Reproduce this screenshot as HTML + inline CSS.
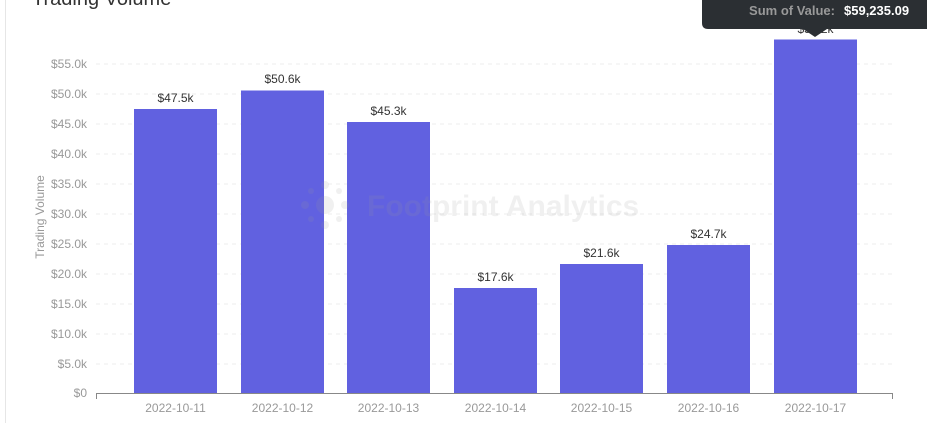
<!DOCTYPE html>
<html><head><meta charset="utf-8"><style>
body{margin:0;background:#fff;width:927px;height:423px;overflow:hidden;font-family:"Liberation Sans",sans-serif}
</style></head><body>
<svg width="927" height="423" xmlns="http://www.w3.org/2000/svg" font-family="Liberation Sans, sans-serif">
<rect x="0" y="0" width="927" height="423" fill="#fff"/>
<line x1="5.5" y1="0" x2="5.5" y2="423" stroke="#e6e6e6"/>
<text x="32" y="5" font-size="20" fill="#333">Trading Volume</text>
<g stroke="#eee" stroke-dasharray="4,4">
<line x1="96" x2="893" y1="64" y2="64"/><line x1="96" x2="893" y1="94" y2="94"/><line x1="96" x2="893" y1="124" y2="124"/><line x1="96" x2="893" y1="154" y2="154"/><line x1="96" x2="893" y1="184" y2="184"/><line x1="96" x2="893" y1="214" y2="214"/><line x1="96" x2="893" y1="244" y2="244"/><line x1="96" x2="893" y1="274" y2="274"/><line x1="96" x2="893" y1="304" y2="304"/><line x1="96" x2="893" y1="334" y2="334"/><line x1="96" x2="893" y1="364" y2="364"/>
</g>
<g font-size="12" fill="#999" text-anchor="end">
<text x="87" y="68">$55.0k</text><text x="87" y="98">$50.0k</text><text x="87" y="128">$45.0k</text><text x="87" y="158">$40.0k</text><text x="87" y="188">$35.0k</text><text x="87" y="218">$30.0k</text><text x="87" y="248">$25.0k</text><text x="87" y="278">$20.0k</text><text x="87" y="308">$15.0k</text><text x="87" y="338">$10.0k</text><text x="87" y="368">$5.0k</text><text x="87" y="397">$0</text>
</g>
<text transform="translate(44,217) rotate(-90)" font-size="12" fill="#999" text-anchor="middle">Trading Volume</text>
<g fill="#6161e0">
<rect x="134" y="109" width="83" height="284"/>
<rect x="241" y="90.5" width="83" height="302.5"/>
<rect x="347" y="122" width="83" height="271"/>
<rect x="454" y="288" width="83" height="105"/>
<rect x="560" y="264" width="83" height="129"/>
<rect x="667" y="245" width="83" height="148"/>
<rect x="774" y="39.5" width="83" height="353.5"/>
</g>
<g opacity="0.14" fill="#999">
<circle cx="325" cy="205" r="9"/><circle cx="325" cy="185" r="4"/><circle cx="325" cy="225" r="4"/><circle cx="305" cy="205" r="4"/><circle cx="345" cy="205" r="4"/><circle cx="311" cy="191" r="3"/><circle cx="339" cy="219" r="3"/><circle cx="339" cy="191" r="3"/><circle cx="311" cy="219" r="3"/>
<text x="367" y="216" font-size="30" font-weight="bold">Footprint Analytics</text>
</g>
<g font-size="12" fill="#333" text-anchor="middle">
<text x="175.5" y="102">$47.5k</text><text x="282.5" y="83">$50.6k</text><text x="388.5" y="115">$45.3k</text><text x="495.5" y="281">$17.6k</text><text x="601.5" y="257">$21.6k</text><text x="708.5" y="238">$24.7k</text><text x="815.5" y="33">$59.2k</text>
</g>
<line x1="96" x2="893" y1="393.5" y2="393.5" stroke="#888"/>
<line x1="96.5" x2="96.5" y1="393" y2="399" stroke="#888"/>
<line x1="892.5" x2="892.5" y1="393" y2="399" stroke="#888"/>
<g font-size="12" fill="#999" text-anchor="middle">
<text x="175.5" y="412">2022-10-11</text><text x="282.5" y="412">2022-10-12</text><text x="388.5" y="412">2022-10-13</text><text x="495.5" y="412">2022-10-14</text><text x="601.5" y="412">2022-10-15</text><text x="708.5" y="412">2022-10-16</text><text x="815.5" y="412">2022-10-17</text>
</g>
<path d="M702,-5 H927 V29 H827 L815,37 L803,29 H708 Q702,29 702,23 Z" fill="#2b2f33"/>
<text x="835" y="15" font-size="13" font-weight="bold" fill="#999" text-anchor="end">Sum of Value:</text>
<text x="844" y="15" font-size="13" font-weight="bold" fill="#fff">$59,235.09</text>
</svg>
</body></html>
